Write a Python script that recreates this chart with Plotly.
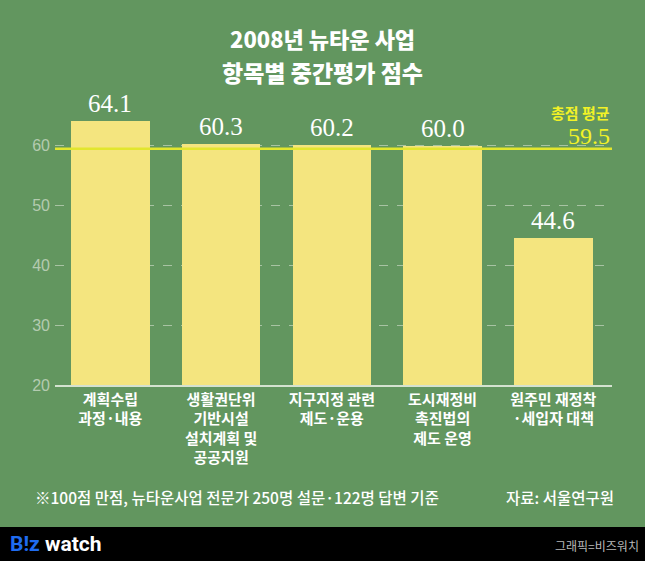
import plotly.graph_objects as go

categories = ["계획수립<br>과정·내용", "생활권단위<br>기반시설<br>설치계획 및<br>공공지원",
              "지구지정 관련<br>제도·운용", "도시재정비<br>촉진법의<br>제도 운영",
              "원주민 재정착<br>·세입자 대책"]
scores = [64.1, 60.3, 60.2, 60.0, 44.6]
average = 59.5
y_ticks = [20, 30, 40, 50, 60]

bg = "#62965f"
bar_color = "#f4e57f"
kr = "Noto Sans CJK KR"
serif = "Liberation Serif"

W, H = 645, 561
L, R, T, B = 55, 33, 86, 176


def px(x):
    return (x - L) / (W - L - R)


def py(y):
    return (H - B - y) / (H - T - B)


def note(x, y, text, font, xanchor="center"):
    fig.add_annotation(xref="paper", yref="paper", x=px(x), y=py(y), text=text,
                       showarrow=False, xanchor=xanchor, yanchor="middle", font=font)


fig = go.Figure()

fig.add_trace(go.Bar(
    x=list(range(len(scores))),
    y=scores,
    width=0.71,
    marker=dict(color=bar_color, line=dict(width=0)),
    hoverinfo="skip",
))

# value labels above bars
for i, v in enumerate(scores):
    fig.add_annotation(x=i, y=v, text=f"{v:.1f}", showarrow=False,
                       yanchor="bottom", yshift=2,
                       font=dict(family=serif, size=25, color="white"))

fig.add_shape(type="line", xref="paper", yref="y", x0=0, x1=1,
              y0=average, y1=average, layer="above",
              line=dict(color="#e2e62e", width=2.5))

note(612, 112, "총점 평균", dict(family=kr, size=15, color="#f2f226", weight="bold"), "right")
note(612, 136, f"{average}", dict(family=serif, size=24, color="#f2f226"), "right")

# title
note(322, 38, "2008년 뉴타운 사업", dict(family=kr, size=22, color="white", weight=900))
note(322, 72, "항목별 중간평가 점수", dict(family=kr, size=23, color="white", weight=900))

# notes
note(33, 497, "※100점 만점, 뉴타운사업 전문가 250명 설문·122명 답변 기준",
     dict(family=kr, size=15.5, color="white", weight=500), "left")
note(616, 497, "자료: 서울연구원", dict(family=kr, size=15.5, color="white", weight=500), "right")

# footer band
fig.add_shape(type="rect", xref="paper", yref="paper", x0=px(0), x1=px(W),
              y0=py(H), y1=py(527), fillcolor="black", line=dict(width=0),
              layer="above")
note(8, 544, "<span style='color:#1f6cf0'>B!z</span> watch",
     dict(family="Roboto", size=21, color="white", weight="bold"), "left")
note(641, 545, "그래픽=비즈워치", dict(family=kr, size=12, color="#b8b8b8"), "right")

fig.update_layout(
    width=W, height=H,
    margin=dict(l=L, r=R, t=T, b=B),
    paper_bgcolor=bg, plot_bgcolor=bg,
    showlegend=False,
    bargap=0,
    xaxis=dict(range=[-0.5, 4.53], tickvals=list(range(len(categories))),
               ticktext=categories, showgrid=False, showline=True,
               linecolor="#d4e2d0", linewidth=1.5, ticks="",
               tickfont=dict(family=kr, size=15, color="white", weight="bold")),
    yaxis=dict(range=[20, 70], tickvals=y_ticks, showgrid=True,
               gridcolor="#a8c3a3", griddash="dash", gridwidth=1,
               zeroline=False, ticks="", ticklabelstandoff=4,
               tickfont=dict(family="Liberation Sans", size=16, color="#b4cbb0")),
)

fig.write_html("out.html", config={"displayModeBar": False},
               post_script="document.body.style.margin='0';")
